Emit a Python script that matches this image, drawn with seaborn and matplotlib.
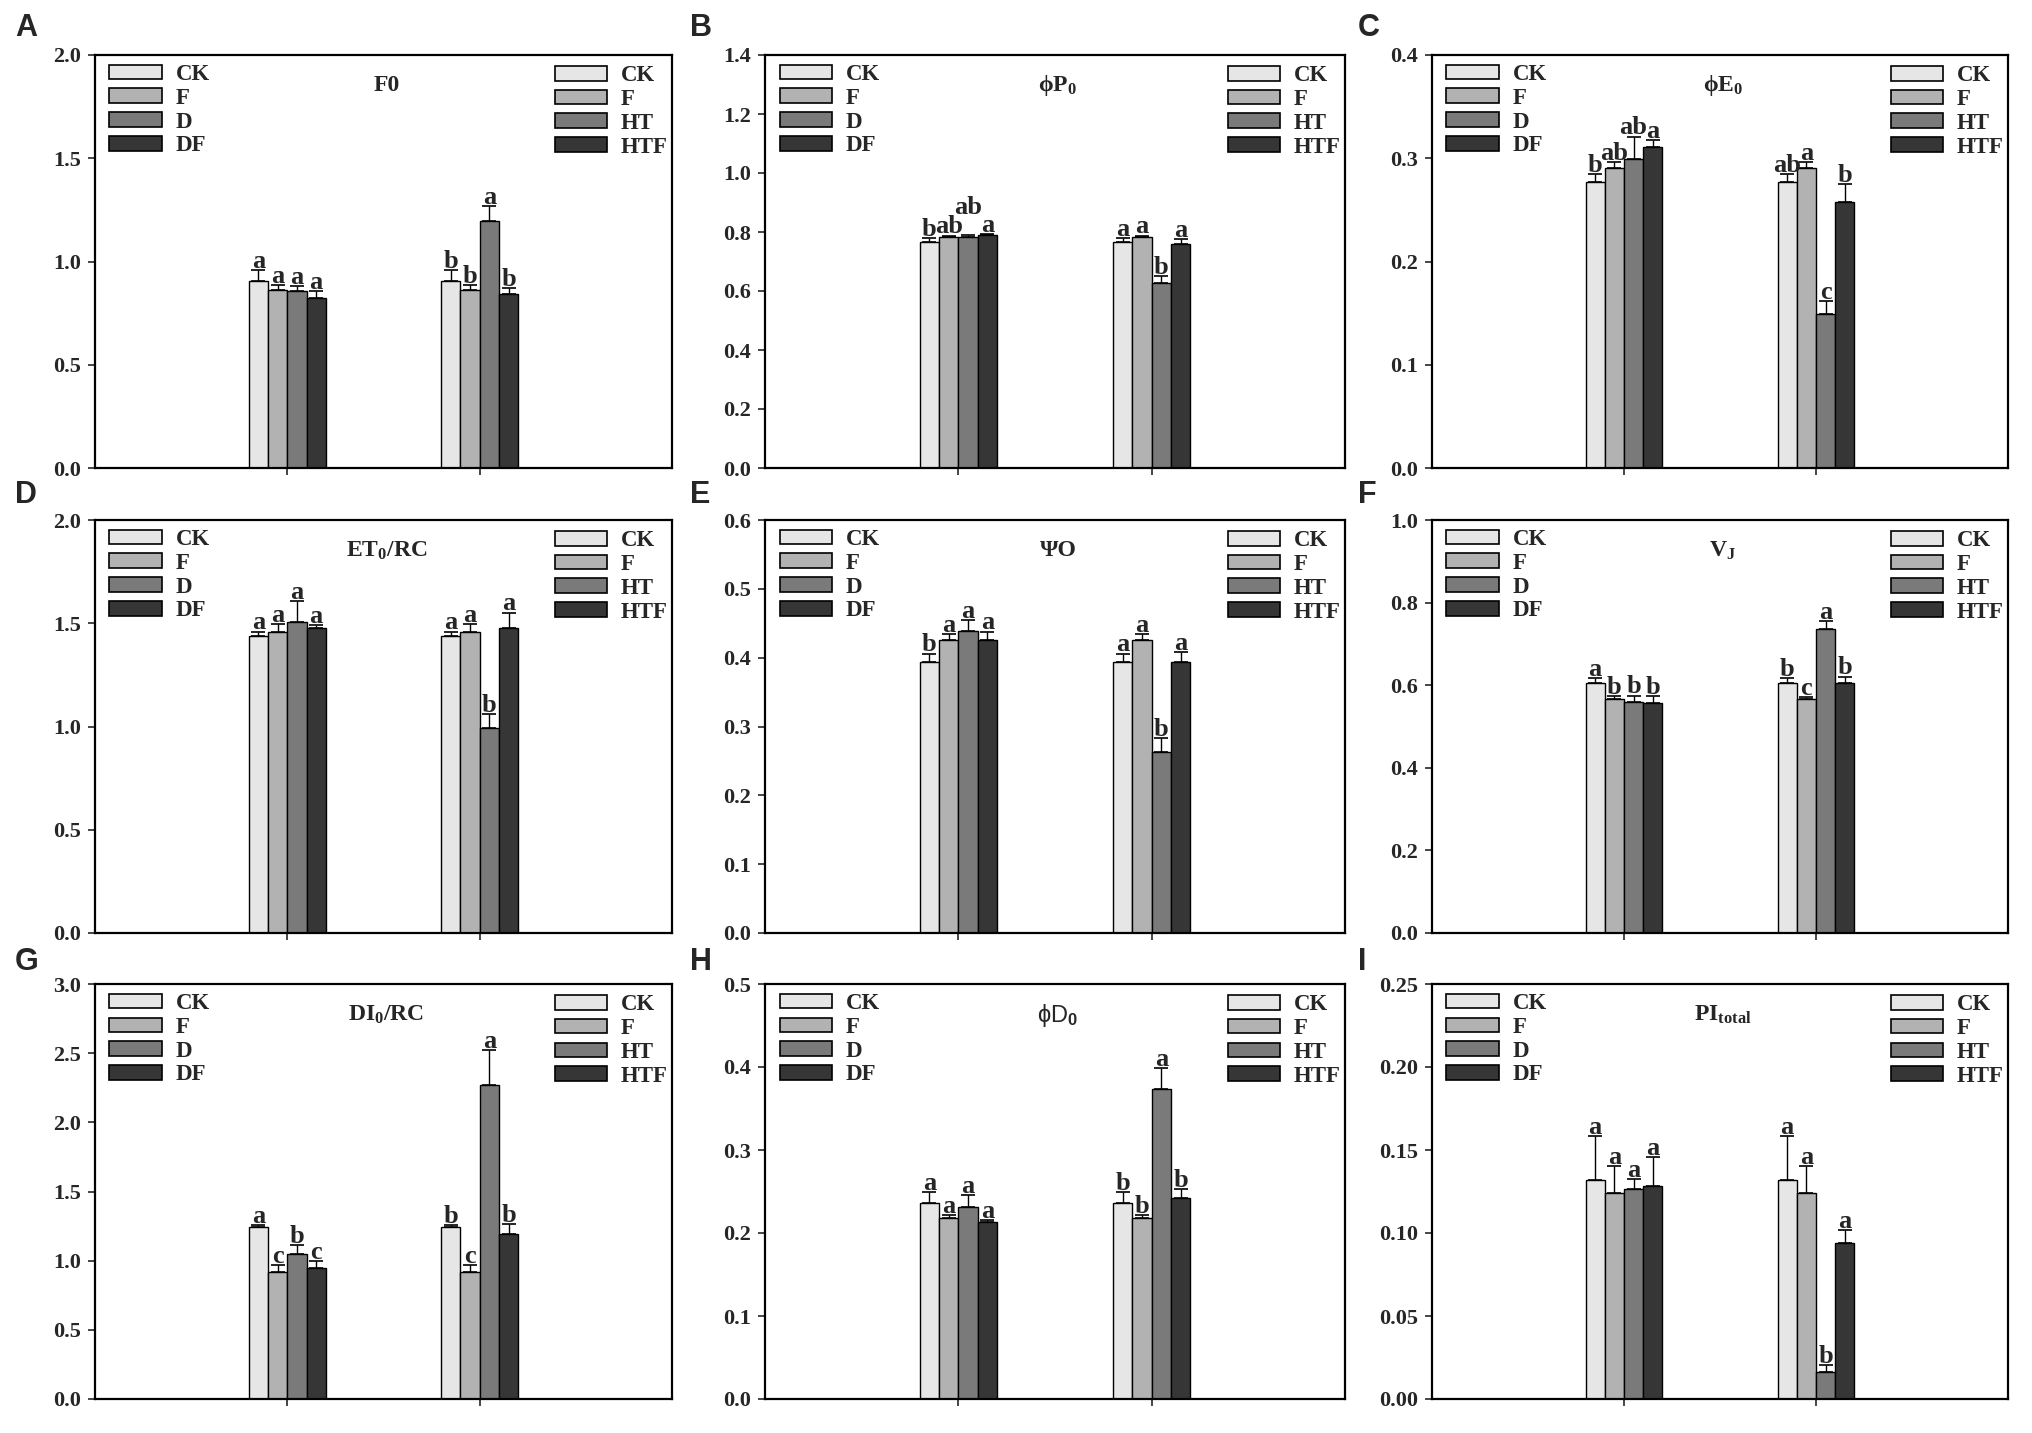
import numpy as np
import pandas as pd
import matplotlib
matplotlib.use("Agg")
import matplotlib.pyplot as plt
import seaborn as sns
from matplotlib.patches import Patch

# ---------------- data ----------------
groups = [1, 2]
left_labels = ["CK", "F", "D", "DF"]
right_labels = ["CK", "F", "HT", "HTF"]
bar_colors = ["#e6e6e6", "#b2b2b2", "#7a7a7a", "#363636"]

# order: group1 CK,F,D,DF  then group2 CK,F,HT,HTF
f0_mean = [0.906, 0.863, 0.855, 0.823, 0.906, 0.863, 1.197, 0.844]
f0_err = [0.053, 0.024, 0.024, 0.035, 0.053, 0.024, 0.070, 0.026]
f0_sig = ["a", "a", "a", "a", "b", "b", "a", "b"]

phip_mean = [0.766, 0.783, 0.783, 0.789, 0.766, 0.783, 0.626, 0.760]
phip_err = [0.013, 0.005, 0.006, 0.003, 0.013, 0.005, 0.025, 0.015]
phip_sig = ["b", "ab", "ab", "a", "a", "a", "b", "a"]

phie_mean = [0.277, 0.291, 0.299, 0.311, 0.277, 0.291, 0.149, 0.258]
phie_err = [0.008, 0.005, 0.022, 0.007, 0.008, 0.005, 0.013, 0.017]
phie_sig = ["b", "ab", "ab", "a", "ab", "a", "c", "b"]

et_mean = [1.440, 1.458, 1.508, 1.476, 1.440, 1.458, 0.992, 1.476]
et_err = [0.020, 0.040, 0.100, 0.016, 0.020, 0.040, 0.068, 0.076]
et_sig = ["a", "a", "a", "a", "a", "a", "b", "a"]

psi_mean = [0.394, 0.426, 0.439, 0.425, 0.394, 0.426, 0.263, 0.394]
psi_err = [0.012, 0.008, 0.016, 0.013, 0.012, 0.008, 0.020, 0.014]
psi_sig = ["b", "a", "a", "a", "a", "a", "b", "a"]

vj_mean = [0.606, 0.566, 0.560, 0.556, 0.606, 0.566, 0.737, 0.606]
vj_err = [0.011, 0.008, 0.015, 0.017, 0.011, 0.006, 0.019, 0.015]
vj_sig = ["a", "b", "b", "b", "b", "c", "a", "b"]

di_mean = [1.241, 0.920, 1.048, 0.949, 1.241, 0.920, 2.271, 1.190]
di_err = [0.017, 0.048, 0.065, 0.050, 0.017, 0.048, 0.254, 0.072]
di_sig = ["a", "c", "b", "c", "b", "c", "a", "b"]

phid_mean = [0.236, 0.218, 0.231, 0.213, 0.236, 0.218, 0.374, 0.242]
phid_err = [0.013, 0.004, 0.015, 0.003, 0.013, 0.004, 0.025, 0.011]
phid_sig = ["a", "a", "a", "a", "b", "b", "a", "b"]

pi_mean = [0.1317, 0.1240, 0.1268, 0.1286, 0.1317, 0.1240, 0.0164, 0.0939]
pi_err = [0.0267, 0.0166, 0.0059, 0.0174, 0.0267, 0.0166, 0.0038, 0.0081]
pi_sig = ["a", "a", "a", "a", "a", "a", "b", "a"]

panel_letters = ["A", "B", "C", "D", "E", "F", "G", "H", "I"]
panel_titles = ["F0", "ϕP$_0$", "ϕE$_0$", "ET$_0$/RC", "ΨO", "V$_J$",
                "DI$_0$/RC", "ϕD$_\\mathsf{0}$", "PI$_{total}$"]
y_limits = [(0, 2.0, 0.5), (0, 1.4, 0.2), (0, 0.4, 0.1),
            (0, 2.0, 0.5), (0, 0.6, 0.1), (0, 1.0, 0.2),
            (0, 3.0, 0.5), (0, 0.5, 0.1), (0, 0.25, 0.05)]
tick_fmt = ["%.1f"] * 8 + ["%.2f"]

means = [f0_mean, phip_mean, phie_mean, et_mean, psi_mean, vj_mean, di_mean, phid_mean, pi_mean]
errs = [f0_err, phip_err, phie_err, et_err, psi_err, vj_err, di_err, phid_err, pi_err]
sigs = [f0_sig, phip_sig, phie_sig, et_sig, psi_sig, vj_sig, di_sig, phid_sig, pi_sig]

# ---------------- style ----------------
sns.set_style("ticks")
plt.rcParams["font.family"] = ["Liberation Serif", "DejaVu Serif"]
plt.rcParams["font.weight"] = "bold"
plt.rcParams["mathtext.fontset"] = "custom"
plt.rcParams["mathtext.rm"] = "Liberation Serif:bold"
plt.rcParams["mathtext.it"] = "Liberation Serif:bold"
plt.rcParams["mathtext.bf"] = "Liberation Serif:bold"
plt.rcParams["mathtext.sf"] = "Liberation Sans"
plt.rcParams["mathtext.default"] = "rm"

W, H = 2033, 1433
fig = plt.figure(figsize=(W / 100, H / 100), dpi=100)

col_px = [(95, 672), (765, 1345), (1432, 2008)]
row_px = [(55, 468), (520, 933), (984, 1399)]
letter_x = [15, 690, 1358]
letter_y = [28, 495, 962]

# extra upward nudge (points) for letters that sit above a neighbour: (panel, bar index)
letter_nudge = {(1, 2): 14}

slots = ["s0", "s1", "s2", "s3"]
pal = dict(zip(slots, bar_colors))

for k in range(9):
    r, c = divmod(k, 3)
    x0, x1 = col_px[c]
    y0, y1 = row_px[r]
    ax = fig.add_axes([x0 / W, 1 - y1 / H, (x1 - x0) / W, (y1 - y0) / H])

    rows = []
    for gi, g in enumerate(groups):
        for si, s in enumerate(slots):
            idx = gi * 4 + si
            rows.append(dict(pos=g, slot=s, val=means[k][idx], err=errs[k][idx], sig=sigs[k][idx]))
    df = pd.DataFrame(rows)

    sns.barplot(data=df, x="pos", y="val", hue="slot", hue_order=slots, palette=pal,
                native_scale=True, width=0.4, dodge=True, errorbar=None, saturation=1,
                edgecolor="black", linewidth=1.0, legend=False, ax=ax, zorder=2)

    bars = sorted([p for p in ax.patches], key=lambda p: p.get_x())
    centers = [p.get_x() + p.get_width() / 2 for p in bars]
    df_sorted = df.sort_values(["pos", "slot"]).reset_index(drop=True)
    ax.errorbar(centers, df_sorted["val"], yerr=[np.zeros(len(df_sorted)), df_sorted["err"]],
                fmt="none", ecolor="black", elinewidth=1.0, capsize=5, capthick=1.2, zorder=3)
    for i, (xc, (_, row)) in enumerate(zip(centers, df_sorted.iterrows())):
        dy = 1.5 + letter_nudge.get((k, i), 0)
        ax.annotate(row["sig"], (xc, row["val"] + row["err"]), xytext=(0, dy),
                    textcoords="offset points", ha="center", va="baseline",
                    fontsize=19, fontweight="bold", zorder=4)

    lo, hi, step = y_limits[k]
    ticks = np.arange(lo, hi + step / 2, step)
    ax.set_ylim(lo, hi)
    ax.set_yticks(ticks)
    ax.set_yticklabels([tick_fmt[k] % v for v in ticks])
    ax.set_xlim(0, 3)
    ax.set_xticks(groups)
    ax.set_xticklabels([])
    ax.set_xlabel("")
    ax.set_ylabel("")
    ax.tick_params(axis="both", direction="out", length=5, width=1.2, labelsize=16, pad=5)
    for sp in ax.spines.values():
        sp.set_visible(True)
        sp.set_linewidth(1.6)
        sp.set_color("black")

    handles = [Patch(facecolor=col, edgecolor="black", linewidth=1.2) for col in bar_colors]
    prop = dict(family="Liberation Serif", weight="bold", size=16.5)
    leg_kw = dict(frameon=False, prop=prop, handlelength=2.3, handleheight=0.6,
                  labelspacing=0.12, handletextpad=0.6, borderpad=0, borderaxespad=0)
    leg1 = ax.legend(handles, left_labels, loc="upper left", bbox_to_anchor=(0.025, 0.978), **leg_kw)
    ax.add_artist(leg1)
    ax.legend(handles, right_labels, loc="upper right", bbox_to_anchor=(0.993, 0.975), **leg_kw)

    if k == 7:
        ax.text(0.505, 0.925, panel_titles[k], transform=ax.transAxes, ha="center", va="center",
                fontsize=17, family="Liberation Sans", fontweight="normal")
    else:
        ax.text(0.505, 0.925, panel_titles[k], transform=ax.transAxes, ha="center", va="center",
                fontsize=17, fontweight="bold")

    fig.text(letter_x[c] / W, 1 - letter_y[r] / H, panel_letters[k], ha="left", va="center",
             fontsize=22, family="Liberation Sans", fontweight="bold")

fig.savefig("out.png", dpi=100)
